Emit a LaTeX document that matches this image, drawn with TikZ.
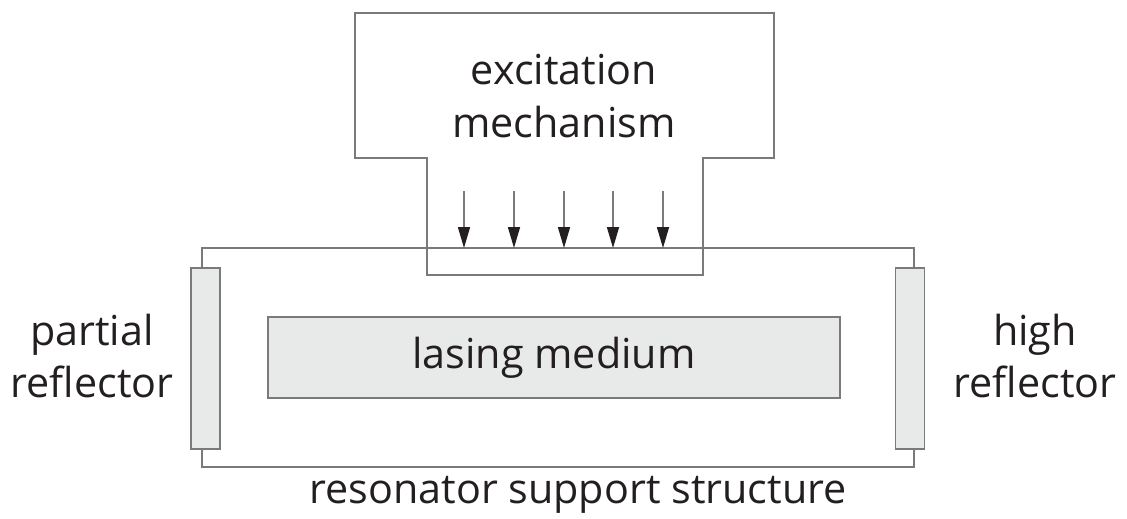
\documentclass[tikz,border=0pt]{standalone}
\usepackage{fontspec}
\setmainfont{Open Sans}
\usetikzlibrary{arrows.meta,positioning}
\definecolor{linegray}{HTML}{7A7A7A}
\definecolor{fillgray}{HTML}{E8E9E9}
\definecolor{ink}{HTML}{231F20}

\begin{document}
\begin{tikzpicture}[x=0.02cm,y=-0.02cm,>=Latex, every node/.style={font=\fontsize{23.5}{30}\selectfont,text=ink,align=center}]
\tikzstyle{outline}=[draw=linegray,line width=0.9pt]
\tikzstyle{plate}=[outline,fill=fillgray,minimum width=0.58cm,minimum height=3.62cm,inner sep=0pt]
\tikzstyle{pump}=[draw=linegray,line width=0.9pt,-{Triangle[length=0.42cm,width=0.24cm,color=ink]}]
\useasboundingbox (0,0) rectangle (1127,518);
% mirrors and medium
\node[plate] (partial) at (205.5,358.5) {};
\node[plate] (high) at (910,358.5) {};
\node[outline,fill=fillgray,minimum width=11.44cm,minimum height=1.62cm,inner sep=0pt] (medium) at (554,357.5) {lasing medium};
\node (partlbl) at (92,356) {partial\\reflector};
\node (highlbl) at (1035,356) {high\\reflector};
% support frame
\draw[outline] ([xshift=-0.07cm]partial.north) |- (558,248) -| ([xshift=0.08cm]high.north);
\draw[outline] ([xshift=-0.07cm]partial.south) |- (558,467) -| ([xshift=0.08cm]high.south);
\node (support) at (578,495) {resonator support structure};
% excitation block
\draw[outline] (355,13) -- (774,13) -- (774,158) -- (703,158) -- (703,275) -- (427,275) -- (427,158) -- (355,158) -- cycle;
\node (excite) at (564,96) {excitation\\mechanism};
\foreach \x [count=\i] in {464,514,564,613,663} {
  \coordinate (from\i) at (\x,191);
  \coordinate (to\i) at (\x,248);
  \draw[pump] (from\i) -- (to\i);
}
\end{tikzpicture}
\end{document}
